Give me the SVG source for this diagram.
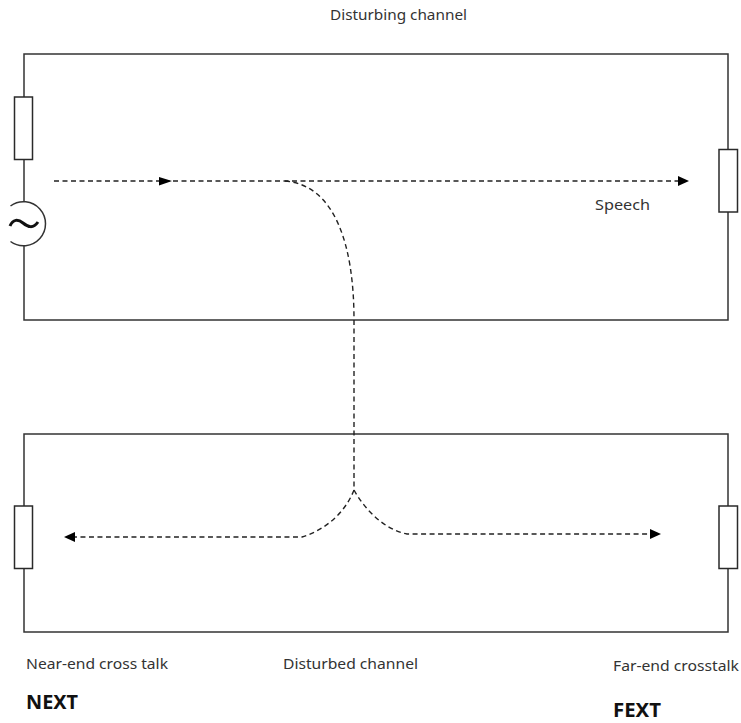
<svg xmlns="http://www.w3.org/2000/svg" width="741" height="723" viewBox="0 0 741 723">
<style>
.w{fill:none;stroke:#333;stroke-width:1.5}
.r{fill:#fff;stroke:#2a2a2a;stroke-width:1.5}
.d{fill:none;stroke:#222;stroke-width:1.4;stroke-dasharray:5 3.5}
.a{fill:#000}
text{font-family:"Noto Sans","Open Sans","Liberation Sans",sans-serif;font-size:14.500px;fill:#333}
.b{font-weight:700;font-size:19px;fill:#111}
</style>
<rect width="741" height="723" fill="#fff"/>
<g id="disturbing-channel">
<path class="w" d="M24 97V54H728V149M728 212V320H24V246M24 202V159"/>
<text x="330" y="20" textLength="137" lengthAdjust="spacingAndGlyphs">Disturbing channel</text>
</g>
<g id="disturbed-channel">
<path class="w" d="M24 506V434H728V506M728 568V632H24V568"/>
<text x="283" y="669" textLength="135" lengthAdjust="spacingAndGlyphs">Disturbed channel</text>
</g>
<g id="resistor-top-left"><rect class="r" x="14.500" y="97" width="18" height="62.500"/></g>
<g id="resistor-top-right"><rect class="r" x="719" y="149.500" width="18.500" height="62.500"/></g>
<g id="resistor-bottom-left"><rect class="r" x="14.500" y="506" width="18" height="62.500"/></g>
<g id="resistor-bottom-right"><rect class="r" x="719" y="506" width="18.500" height="62.500"/></g>
<g id="source">
<path d="M10.500 206A22 22 0 1 1 10.500 241.500" fill="#fff" stroke="#333" stroke-width="1.500"/>
<path d="M10 226C13 219 18 219 23 223S33 229 38 222" fill="none" stroke="#111" stroke-width="3"/>
</g>
<g id="connectors">
<path class="d" d="M54 181H682"/>
<path class="a" d="M159 177L172 181L159 185.500Z"/>
<path class="a" d="M678 176L689 181L678 186Z"/>
<path class="d" d="M285 181C335 185 354 245 354 320V490"/>
<path class="d" d="M354 490C345 513 325 530 302 537H72"/>
<path class="a" d="M75 532L64 537L75 542Z"/>
<path class="d" d="M354 490C365 510 385 530 407 534H652"/>
<path class="a" d="M650 529L661 534L650 539Z"/>
</g>
<g id="labels">
<text x="595" y="210" textLength="55" lengthAdjust="spacingAndGlyphs">Speech</text>
<text x="26" y="669" textLength="142" lengthAdjust="spacingAndGlyphs">Near-end cross talk</text>
<text class="b" x="26" y="709" textLength="52" lengthAdjust="spacingAndGlyphs">NEXT</text>
<text x="613" y="671" textLength="126" lengthAdjust="spacingAndGlyphs">Far-end crosstalk</text>
<text class="b" x="613" y="717" textLength="48" lengthAdjust="spacingAndGlyphs">FEXT</text>
</g>
</svg>
